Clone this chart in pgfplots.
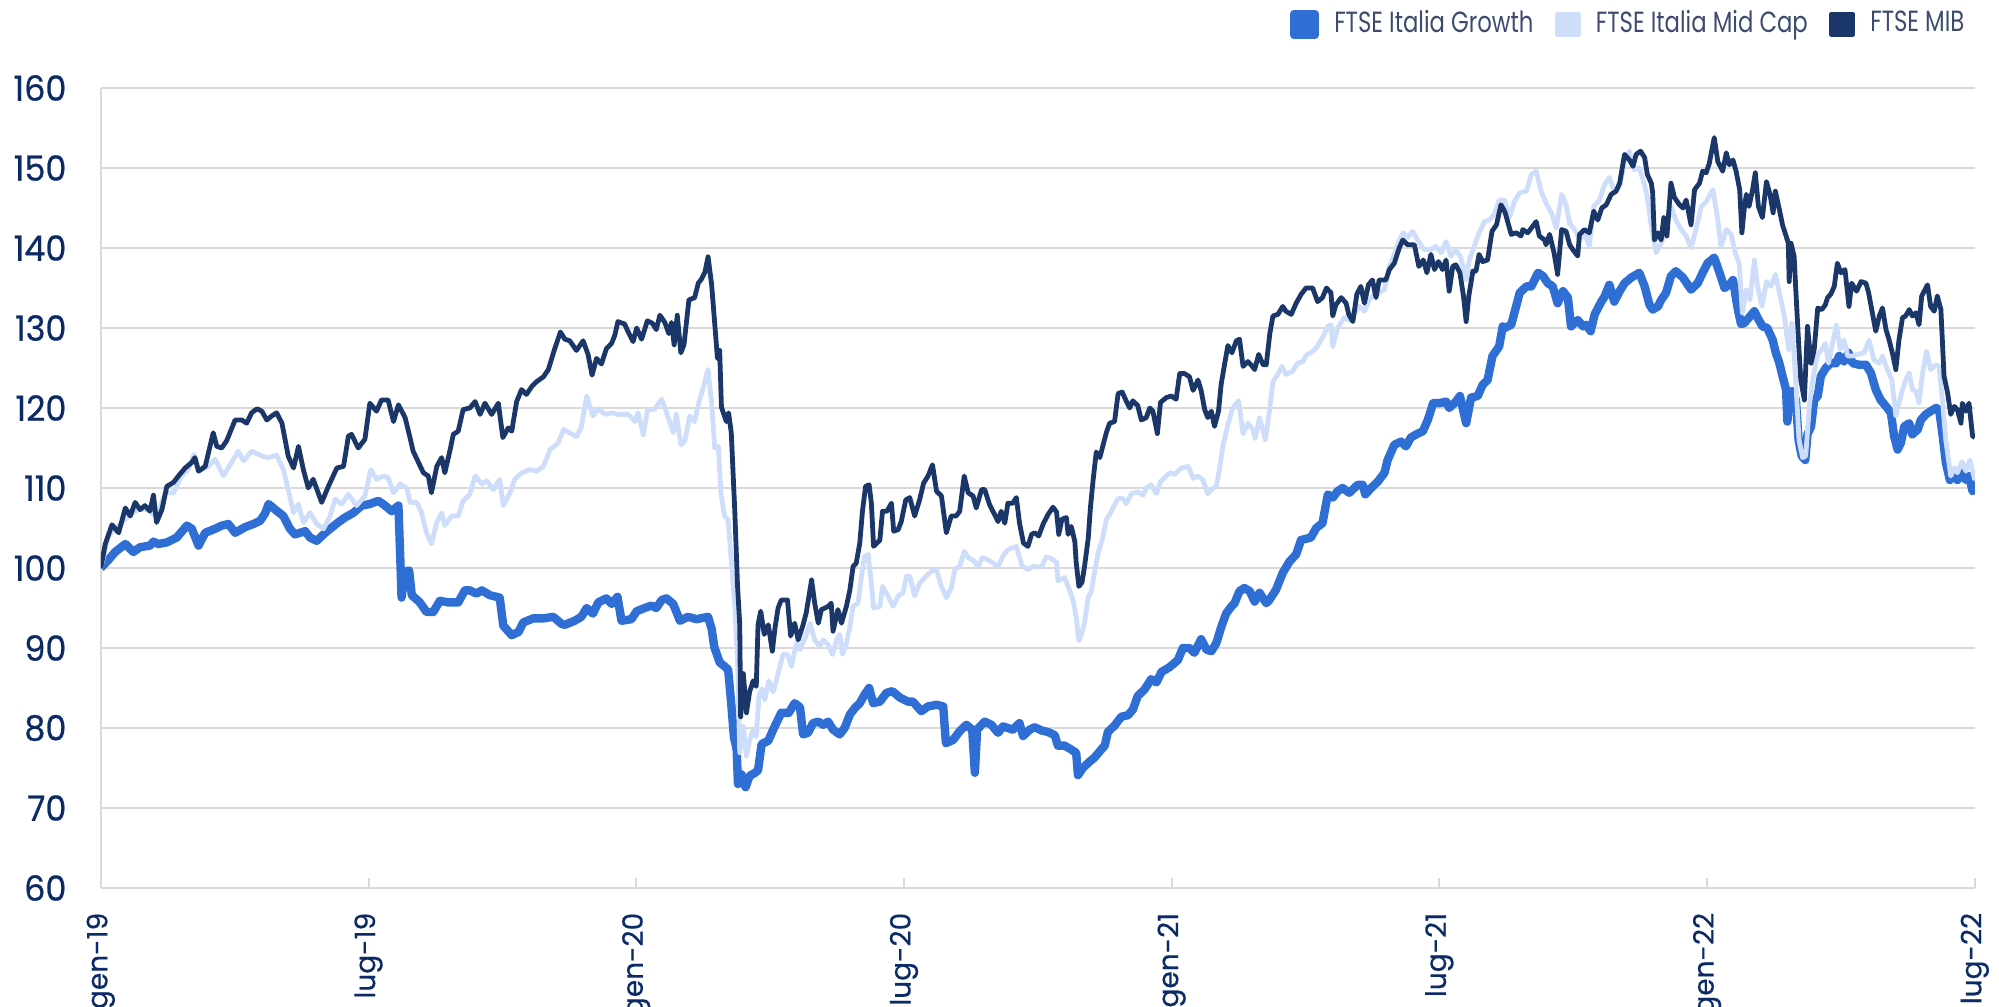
\documentclass[border=0pt]{standalone}
\usepackage{pgfplots}
\pgfplotsset{compat=1.18}
\usepackage{fontspec}
\setmainfont{Poppins}
\newfontfamily\ytfont[FakeStretch=0.96,FakeBold=0.6]{Poppins}
\newfontfamily\xtfont[FakeBold=0.4]{Poppins}
\newfontfamily\legfont[FakeStretch=0.78]{Poppins}
\definecolor{growth}{HTML}{2F6ED4}
\definecolor{midcap}{HTML}{CEDEFA}
\definecolor{mib}{HTML}{1B3668}
\definecolor{ticktext}{HTML}{0B2A66}
\definecolor{legtext}{HTML}{3D4C6E}
\definecolor{gridgray}{HTML}{D9D9D9}
\begin{document}
\begin{tikzpicture}
\begin{axis}[
  at={(0,0)}, anchor=south west,
  width=468.5pt, height=200pt, scale only axis,
  xmin=0, xmax=42, ymin=60, ymax=160,
  xtick={0,6,...,42},
  xticklabels={gen-19,lug-19,gen-20,lug-20,gen-21,lug-21,gen-22,lug-22},
  ytick={60,70,...,160},
  axis x line*=bottom, axis y line*=left,
  axis line style={draw=gridgray, line width=0.6pt},
  ymajorgrids, grid style={draw=gridgray, line width=0.5pt},
  tick align=inside, major tick length=2.5pt,
  xtick style={draw=gridgray, line width=0.5pt},
  ytick style={draw=none},
  /pgf/number format/assume math mode=true,
  xticklabel style={rotate=90, anchor=east, font=\xtfont\fontsize{7}{7}\selectfont, text=ticktext, inner sep=0pt},
  xticklabel shift=6pt,
  yticklabel style={anchor=east, font=\ytfont\fontsize{8.7}{8.7}\selectfont, text=ticktext, inner sep=0pt},
  yticklabel shift=8.4pt,
  legend columns=-1,
  legend style={at={(1,1)}, anchor=east, xshift=-2.6pt, yshift=15.9pt, draw=none, fill=none,
    inner sep=0pt, outer sep=0pt, font=\legfont\fontsize{7.3}{7.3}\selectfont, text=legtext,
    nodes={inner sep=0pt},
    /tikz/every odd column/.append style={column sep=3.8pt},
    /tikz/every even column/.append style={column sep=5.4pt}},
  legend image code/.code={\fill[#1] (0pt,-2.6pt) rectangle (5.2pt,2.6pt);},
  line join=round,
]
\addplot[color=growth, line width=2.1pt] coordinates {
(0,100)(0.17,101)(0.32,102)(0.55,103)(0.73,102)(0.88,102.6)(1.1,102.8)(1.18,103.3)(1.29,103)(1.48,103.2)(1.7,103.8)(1.93,105.3)(2.04,104.9)(2.19,102.8)(2.34,104.4)(2.56,104.9)(2.71,105.3)(2.86,105.5)(3.01,104.4)(3.23,105.1)(3.42,105.5)(3.57,105.9)(3.68,106.8)(3.76,108)(3.91,107.3)(4.09,106.5)(4.24,104.9)(4.35,104.2)(4.58,104.6)(4.69,103.8)(4.84,103.4)(5.03,104.4)
(5.14,104.9)(5.32,105.7)(5.47,106.3)(5.66,106.9)(5.85,107.8)(6.03,108)(6.22,108.4)(6.37,107.8)(6.52,107.1)(6.67,107.8)(6.72,99.9)(6.74,96.3)(6.82,99.5)(6.91,99.7)(6.97,96.6)(7.15,95.7)(7.3,94.5)(7.45,94.5)(7.6,95.9)(7.79,95.7)(8.01,95.7)(8.16,97.2)(8.27,97.2)(8.42,96.8)(8.54,97.2)(8.72,96.6)(8.94,96.3)(9.02,92.8)(9.21,91.6)(9.36,92)(9.47,93.2)(9.69,93.7)(9.92,93.7)(10.14,93.9)(10.33,93)
(10.4,92.9)(10.62,93.4)(10.77,93.9)(10.89,95)(11.03,94.3)(11.15,95.7)(11.33,96.2)(11.45,95.5)(11.58,96.4)(11.67,93.4)(11.89,93.6)(12.01,94.6)(12.19,95)(12.34,95.3)(12.45,95)(12.57,96)(12.68,96.2)(12.83,95.5)(12.98,93.4)(13.16,93.9)(13.35,93.6)(13.61,93.9)(13.69,92.4)(13.75,90.1)(13.87,88.2)(13.98,87.7)(14.06,87.3)(14.13,83)(14.19,78.8)(14.25,77.4)(14.28,73)(14.36,74.2)(14.45,72.6)(14.54,74)(14.66,74.4)(14.73,74.7)(14.81,78)(14.96,78.4)(15.07,79.8)(15.25,81.9)(15.42,81.9)(15.55,83.1)(15.67,82.6)
(15.74,79.2)(15.85,79.4)(15.96,80.6)(16.08,80.8)(16.19,80.4)(16.3,80.8)(16.41,79.8)(16.56,79.2)(16.67,80)(16.79,81.7)(16.9,82.5)(17.01,83.1)(17.12,84.2)(17.22,85)(17.31,83.1)(17.46,83.3)(17.61,84.4)(17.74,84.6)(17.91,83.8)(18.09,83.3)(18.2,83.3)(18.39,82.1)(18.54,82.7)(18.73,82.9)(18.88,82.7)(18.94,78.1)(19.1,78.5)(19.25,79.6)(19.4,80.4)(19.53,79.8)(19.59,74.4)(19.64,79.8)(19.81,80.8)(19.96,80.4)(20.11,79.4)(20.22,80.2)(20.44,79.8)(20.59,80.6)(20.67,79)(20.82,79.8)
(20.93,80.1)(21.08,79.7)(21.23,79.5)(21.38,79.1)(21.45,77.8)(21.6,77.8)(21.75,77.3)(21.86,76.9)(21.9,74.1)(22.01,75)(22.16,75.8)(22.27,76.3)(22.39,77.1)(22.5,77.8)(22.57,79.5)(22.72,80.3)(22.87,81.4)(23.02,81.6)(23.13,82.3)(23.24,84)(23.39,84.8)(23.54,86.1)(23.66,85.7)(23.77,87)(23.95,87.6)(24.14,88.5)(24.25,90)(24.4,90)(24.51,89.4)(24.66,91.1)(24.78,89.8)(24.89,89.6)(25.0,90.6)(25.11,92.6)(25.22,94.3)(25.34,95.2)(25.41,95.6)(25.52,97.1)(25.63,97.5)(25.75,97.1)(25.86,95.8)(25.97,96.9)(26.12,95.6)
(26.19,96)(26.34,97.3)(26.49,99.4)(26.64,100.8)(26.79,101.7)(26.9,103.5)(27.12,103.8)(27.24,105)(27.38,105.6)(27.5,109.2)(27.61,108.8)(27.72,109.6)(27.83,110)(27.98,109.4)(28.17,110.4)(28.28,110.4)(28.34,109.2)(28.47,110)(28.62,110.8)(28.77,111.9)(28.84,113.5)(28.99,115.4)(29.14,115.8)(29.25,115.2)(29.36,116.3)(29.48,116.7)(29.63,117.1)(29.74,118.5)(29.86,120.6)(30.0,120.6)(30.15,120.8)(30.22,120)(30.37,120.8)(30.46,121.5)(30.6,118.1)(30.71,121.3)(30.86,121.5)(30.97,122.9)(31.08,123.5)(31.19,126.5)(31.34,127.7)(31.42,130.2)
(31.46,130)(31.61,130.4)(31.72,132.7)(31.8,134.4)(31.95,135.2)(32.06,135.2)(32.21,136.9)(32.32,136.5)(32.43,135.6)(32.54,135.2)(32.65,133.1)(32.77,134.6)(32.88,133.8)(32.95,130.2)(33.1,131)(33.22,130.2)(33.29,130.4)(33.39,129.6)(33.48,131.7)(33.63,133.3)(33.7,133.9)(33.81,135.4)(33.92,133.3)(34.04,134.6)(34.15,135.6)(34.3,136.3)(34.48,136.9)(34.6,135.2)(34.71,132.9)(34.78,132.3)(34.9,132.7)(34.97,133.5)(35.08,134.4)(35.19,136.5)(35.3,137.1)(35.46,136.3)(35.64,134.8)(35.79,135.6)(35.9,136.9)(36.01,138.1)(36.16,138.8)(36.28,136.9)(36.39,135)(36.5,135.4)(36.58,136)(36.69,132.3)
(36.76,130.5)(36.83,130.6)(36.94,131.3)(37.06,132.1)(37.13,131.3)(37.24,130.2)(37.35,130)(37.47,128.5)(37.54,126.9)(37.62,125.6)(37.69,124)(37.77,122.3)(37.8,118.3)(37.84,121.5)(37.91,122.1)(37.99,121)(38.05,116)(38.12,114)(38.2,113.5)(38.25,116.7)(38.33,117.7)(38.4,121)(38.48,121.5)(38.55,124)(38.66,125)(38.77,125.6)(38.89,125.6)(38.96,126.5)(39.07,125.8)(39.17,126.9)(39.26,125.6)(39.41,125.4)(39.56,125.4)(39.67,124.4)(39.78,122.3)(39.89,121)(40.01,120.2)(40.12,119.4)(40.19,116.5)(40.27,114.8)(40.34,115.6)(40.42,117.7)(40.53,118.1)(40.6,116.7)(40.72,117.3)(40.79,118.5)(40.9,119.2)(41.01,119.6)(41.13,120)(41.2,119.8)(41.28,116.5)(41.35,113.2)(41.44,111)(41.54,111.9)(41.61,111)(41.71,111.9)(41.8,111)(41.87,111.5)(41.95,109.6)(42.0,109.8)
};
\addlegendentry{FTSE Italia Growth}
\addplot[color=midcap, line width=1.2pt] coordinates {
(0,100)(0.17,104)(0.4,105.3)(0.62,106.5)(0.84,107.3)(1.07,107.3)(1.25,106.3)(1.44,109.4)(1.63,109.4)(1.81,111.5)(1.96,112.3)(2.09,114.2)(2.19,112.1)(2.41,112.7)(2.56,113.6)(2.75,111.5)(2.93,113.2)(3.08,114.6)(3.2,113.4)(3.38,114.6)(3.61,114)(3.76,113.8)(3.94,114.1)(4.09,112.3)(4.2,109.8)(4.32,106.9)(4.43,108)(4.54,105.7)(4.69,106.9)(4.84,105.5)(4.99,104.9)(5.14,106.5)
(5.25,108.6)(5.4,108)(5.55,109.2)(5.73,107.8)(5.92,109)(6.05,112.3)(6.18,111.1)(6.33,111.5)(6.44,111.3)(6.56,109.4)(6.71,110.5)(6.86,110)(6.93,108.2)(7.08,108.2)(7.19,106.9)(7.3,104.4)(7.41,103)(7.53,105.7)(7.64,106.9)(7.71,105.3)(7.86,106.5)(8.01,106.5)(8.12,108.4)(8.27,109.2)(8.39,111.5)(8.54,110.5)(8.65,110.9)(8.8,109.8)(8.94,111.1)(9.02,107.8)(9.17,109.4)(9.28,111.1)(9.43,111.9)(9.62,112.3)(9.77,112.1)(9.92,112.7)(10.07,114.8)(10.25,115.6)(10.37,117.3)
(10.51,116.9)(10.66,116.4)(10.77,117.6)(10.89,121.5)(11.03,119)(11.15,119.9)(11.3,119.2)(11.45,119.4)(11.59,119.2)(11.82,119.2)(11.97,118.3)(12.04,119.4)(12.16,116.6)(12.25,119.7)(12.42,119.9)(12.57,121.1)(12.68,119.4)(12.83,116.9)(12.9,119.2)(13.0,115.4)(13.09,115.9)(13.2,119)(13.31,118.3)(13.39,120.4)(13.5,122.5)(13.61,124.8)(13.69,120.6)(13.76,115)(13.84,115.2)(13.9,109.3)(13.98,106.5)(14.06,106)(14.13,100.9)(14.21,95.3)(14.27,88.2)(14.32,76.9)(14.4,80.2)(14.47,76.5)(14.54,78.4)(14.62,79.8)(14.69,78.9)(14.75,84)(14.82,84.9)(14.88,83.5)(14.97,85.9)(15.07,84.5)(15.18,86.8)(15.29,89.2)(15.39,89.2)(15.48,87.7)(15.59,90.6)
(15.67,89.8)(15.78,91.2)(15.9,93.1)(16.0,91)(16.11,90.2)(16.19,91)(16.3,90.4)(16.4,89.2)(16.49,91)(16.56,91.7)(16.62,89.2)(16.71,90.6)(16.79,92.7)(16.86,95.2)(16.97,95.6)(17.05,99)(17.12,101.5)(17.2,101.7)(17.27,98.1)(17.32,95)(17.46,95.2)(17.52,97.7)(17.64,96.5)(17.76,95.2)(17.87,96.5)(17.98,96.9)(18.06,99)(18.13,99)(18.24,96.5)(18.35,98.1)(18.5,99)(18.62,99.6)(18.73,99.8)(18.84,97.7)(18.95,96.3)(19.06,97.5)(19.14,99.8)(19.25,100.2)(19.35,102.1)(19.44,101.3)(19.55,101)(19.66,100.2)(19.76,101.3)(19.89,101)(20.0,100.6)(20.11,100.2)(20.22,101.5)(20.33,102.3)(20.52,102.7)(20.65,100.2)(20.78,99.8)(20.89,100.2)
(21.08,100.1)(21.19,101.4)(21.3,101.2)(21.42,100.7)(21.45,98.4)(21.6,98.8)(21.68,97.7)(21.79,96)(21.86,93.9)(21.92,90.9)(21.98,91.7)(22.05,93.2)(22.13,96.4)(22.2,97.1)(22.27,99.4)(22.35,101.8)(22.46,103.9)(22.54,106.1)(22.61,106.7)(22.69,107.6)(22.8,108.7)(22.91,108.7)(22.98,108)(23.1,109.3)(23.24,109.5)(23.36,109.1)(23.43,110)(23.54,110.4)(23.66,109.3)(23.75,110.8)(23.88,111.5)(23.95,111.9)(24.07,111.7)(24.22,112.5)(24.37,112.7)(24.48,111.2)(24.59,111.5)(24.7,111)(24.81,109.3)(24.93,110)(25.0,110.2)(25.07,112.3)(25.15,115.3)(25.26,117.9)(25.37,120)(25.5,120.9)(25.6,116.8)(25.71,118.1)(25.82,117.3)(25.87,116.2)(25.97,118.8)(26.1,116)(26.2,120)
(26.27,123.3)(26.38,124.2)(26.47,125.2)(26.56,124.2)(26.71,124.6)(26.82,125.6)(26.94,125.8)(27.03,126.7)(27.12,126.9)(27.24,127.5)(27.38,128.8)(27.5,130.2)(27.57,130.4)(27.61,127.7)(27.72,130)(27.87,131.3)(27.98,131)(28.09,131.7)(28.21,132.7)(28.32,132.1)(28.43,133.5)(28.54,134.2)(28.65,134.4)(28.77,134.8)(28.88,137.7)(28.99,139.2)(29.1,141)(29.19,141.9)(29.29,141.3)(29.4,142.1)(29.51,141)(29.66,139.8)(29.81,139.8)(29.92,140.2)(30.04,139.4)(30.15,140.8)(30.26,139)(30.37,139.8)(30.48,138.8)(30.6,136)(30.67,138.5)(30.78,140.2)(30.89,141.9)(31.01,143.3)(31.12,143.5)(31.23,144.2)(31.34,146)
(31.46,146)(31.57,143.8)(31.68,145.8)(31.8,146.9)(31.95,147.1)(32.06,149.2)(32.17,149.6)(32.28,147.1)(32.39,145.6)(32.51,144.4)(32.62,142.5)(32.74,146.7)(32.84,145.4)(32.92,143.1)(33.03,142.3)(33.14,141)(33.25,141.9)(33.36,140.2)(33.46,145.2)(33.59,146)(33.7,147.9)(33.81,148.8)(33.92,147.1)(34.04,147.7)(34.15,150.8)(34.26,152.1)(34.36,149.8)(34.48,150)(34.6,147.9)(34.67,146)(34.75,142.7)(34.86,139.4)(34.97,140.6)(35.08,142.3)(35.19,145.2)(35.3,143.5)(35.42,142.3)(35.53,141.5)(35.64,140)(35.75,142.3)(35.87,145.2)(35.98,145.8)(36.13,147.3)(36.24,143.5)(36.31,140.2)(36.43,142.3)(36.54,141.7)(36.63,139.4)(36.72,138)
(36.79,131.9)(36.88,134.8)(36.96,133.5)(37.06,138.5)(37.13,135.2)(37.23,132.7)(37.33,135.8)(37.43,135.2)(37.53,136.7)(37.62,134.4)(37.73,131.5)(37.83,127.3)(37.9,130.6)(37.99,123.1)(38.06,116)(38.14,113.8)(38.21,114)(38.29,120.2)(38.38,124)(38.48,126.7)(38.57,127.3)(38.65,128.1)(38.72,125.6)(38.81,128.1)(38.9,130.4)(38.98,127.3)(39.07,128.5)(39.15,126.5)(39.26,126.5)(39.37,126.7)(39.52,126.9)(39.63,128.5)(39.74,126)(39.86,125.6)(39.93,126.5)(40.04,124.8)(40.14,123.5)(40.23,119)(40.3,120.6)(40.38,122.3)(40.45,123.5)(40.53,124.4)(40.6,122.3)(40.68,122.1)(40.75,120.6)(40.83,124.4)(40.92,127.1)(41.01,124.8)(41.13,125.4)(41.2,125.2)(41.28,120.6)(41.35,116)(41.46,111.5)(41.54,112.5)(41.61,111.9)(41.71,113.3)(41.8,112.1)(41.89,113.5)(42.0,111)
};
\addlegendentry{FTSE Italia Mid Cap}
\addplot[color=mib, line width=1.2pt] coordinates {
(0,100)(0.1,103)(0.25,105.4)(0.4,104.4)(0.55,107.5)(0.66,106.5)(0.77,108.2)(0.88,107.3)(0.99,107.8)(1.1,107.1)(1.18,109.1)(1.25,105.7)(1.37,107.3)(1.48,110.2)(1.63,110.7)(1.74,111.5)(1.89,112.5)(2.04,113.2)(2.11,113.8)(2.19,112.1)(2.34,112.7)(2.52,116.9)(2.6,115.2)(2.71,115)(2.82,115.9)(3.01,118.5)(3.16,118.5)(3.27,118.1)(3.38,119.4)(3.5,119.9)(3.61,119.6)(3.72,118.5)(3.83,119)(3.94,119.4)(4.06,118.1)(4.2,114)(4.32,112.5)(4.43,115.2)(4.54,112.3)(4.65,110)(4.76,111.1)(4.95,108.2)(5.1,110.2)
(5.29,112.5)(5.44,112.7)(5.55,116.5)(5.62,116.7)(5.77,115)(5.92,116.1)(6.03,120.6)(6.18,119.6)(6.29,121)(6.44,121)(6.56,118.3)(6.67,120.4)(6.82,118.8)(6.93,116.3)(7.0,114.6)(7.12,113.2)(7.23,111.9)(7.34,111.5)(7.41,109.4)(7.53,112.7)(7.64,113.8)(7.71,111.9)(7.83,114.8)(7.9,116.7)(8.01,117.1)(8.12,119.8)(8.27,120)(8.39,120.8)(8.5,119.2)(8.61,120.6)(8.76,119.2)(8.91,120.6)(9.01,116.3)(9.13,117.5)(9.21,117.1)(9.32,120.8)(9.43,122.3)(9.54,121.7)(9.66,122.7)(9.77,123.3)(9.92,123.9)(10.03,124.8)(10.15,127)(10.3,129.5)
(10.4,128.6)(10.51,128.4)(10.66,127.2)(10.81,128.4)(10.92,126.7)(11.01,124.1)(11.11,126.2)(11.22,125.5)(11.33,127.4)(11.45,128.1)(11.52,129.1)(11.59,130.8)(11.74,130.5)(11.82,129.5)(11.93,128.3)(12.01,130)(12.12,128.6)(12.25,130.9)(12.36,130.6)(12.45,129.8)(12.53,131.6)(12.64,130.7)(12.73,129.3)(12.79,130.7)(12.85,127.9)(12.92,131.6)(13.0,126.9)(13.07,127.9)(13.18,133.5)(13.31,133.8)(13.39,135.6)(13.46,136.1)(13.54,137)(13.61,138.9)(13.69,135.4)(13.76,130.5)(13.82,126.2)(13.87,127.2)(13.91,120.1)(14.02,118.3)(14.07,119.4)(14.13,116.9)(14.21,107)(14.27,97.8)(14.32,92.9)(14.34,81.4)(14.4,86.8)(14.47,81.9)(14.54,84.5)(14.62,85.9)(14.69,85.2)(14.73,92.9)(14.79,94.6)(14.87,91.7)(14.96,92.9)(15.05,89.6)(15.11,92.5)(15.18,95)(15.25,96)(15.39,96)(15.46,91.5)(15.55,93.1)(15.63,91)
(15.74,92.9)(15.81,94.4)(15.93,98.5)(16.0,95.6)(16.08,93.1)(16.15,94.8)(16.23,95)(16.3,95.2)(16.37,95.6)(16.41,92.1)(16.52,94.8)(16.6,93.1)(16.71,95.2)(16.79,97.3)(16.86,100.2)(16.93,100.6)(17.01,103.1)(17.07,107.1)(17.14,110.2)(17.22,110.4)(17.27,108.1)(17.32,102.7)(17.46,103.5)(17.52,107.1)(17.62,107.1)(17.72,108.1)(17.77,104.6)(17.87,104.8)(17.94,105.8)(18.04,108.5)(18.13,108.8)(18.24,106.5)(18.35,108.5)(18.44,110.6)(18.54,111.5)(18.64,112.9)(18.73,109.6)(18.84,109)(18.95,104.4)(19.06,106.5)(19.17,106.5)(19.25,107.1)(19.35,111.5)(19.44,109.4)(19.55,109)(19.62,107.5)(19.74,109.8)(19.81,109.8)(19.92,107.9)(20.03,106.7)(20.11,105.8)(20.18,107.1)(20.26,105.6)(20.33,108.1)(20.44,108.1)(20.52,108.8)(20.59,105.6)(20.68,103.1)(20.78,102.7)(20.86,104.2)
(20.93,104.4)(21.02,104)(21.12,105.5)(21.23,106.7)(21.34,107.6)(21.42,107)(21.47,104.2)(21.54,106.1)(21.64,106.3)(21.68,104.2)(21.75,105.2)(21.83,103.3)(21.86,100.7)(21.92,97.7)(21.99,98.2)(22.05,100.3)(22.13,103.7)(22.18,107.6)(22.24,111)(22.31,114.5)(22.39,113.8)(22.46,115.3)(22.54,117)(22.61,118.1)(22.72,118.3)(22.8,121.8)(22.89,122)(22.98,120.9)(23.06,120)(23.13,120.9)(23.24,120.3)(23.32,118.5)(23.43,118.8)(23.51,120)(23.58,119.6)(23.68,116.8)(23.75,120.7)(23.88,121.3)(23.99,121.5)(24.1,121.1)(24.18,124.3)(24.29,124.3)(24.4,123.9)(24.48,122.2)(24.59,123.5)(24.66,122.2)(24.74,119.8)(24.81,118.8)(24.89,119.6)(24.96,117.7)(25.05,119.6)(25.11,123)(25.19,125.6)(25.26,127.8)(25.35,126.9)(25.45,128.4)(25.52,128.6)(25.6,125.2)(25.71,125.8)(25.78,125.4)(25.86,124.8)(25.95,126.7)(26.05,125.4)(26.12,125.4)(26.2,129.3)
(26.27,131.5)(26.38,131.7)(26.49,132.7)(26.56,132.1)(26.68,131.7)(26.79,133.1)(26.9,134.2)(27.01,135)(27.16,135)(27.27,133.3)(27.38,133.8)(27.47,135)(27.57,134.4)(27.61,131.5)(27.68,132.9)(27.8,133.8)(27.91,133.1)(27.97,131.7)(28.06,130.8)(28.15,134.2)(28.24,135.2)(28.32,133.1)(28.41,135.4)(28.5,136)(28.58,133.8)(28.65,136)(28.8,136)(28.88,137.3)(28.99,138.1)(29.1,140)(29.18,141)(29.29,140.4)(29.44,140.4)(29.54,137.7)(29.64,138.5)(29.72,136.9)(29.81,139.2)(29.89,137.3)(29.98,138.3)(30.07,137.3)(30.15,138.5)(30.22,134.6)(30.3,137.7)(30.37,137.9)(30.46,136.9)(30.54,134)(30.6,130.8)(30.66,134)(30.75,137.1)(30.82,137.1)(30.89,139.2)(30.97,138.3)(31.08,138.5)(31.18,142.1)(31.28,142.9)(31.38,145.4)
(31.47,144.5)(31.57,142.5)(31.61,141.7)(31.72,141.9)(31.83,141.5)(31.87,142.3)(31.98,141.9)(32.09,142.7)(32.17,143.3)(32.24,141.5)(32.36,141)(32.39,140.4)(32.47,141.7)(32.57,139.4)(32.65,136.7)(32.74,142.3)(32.84,142.1)(32.92,140.4)(32.99,139.8)(33.1,139)(33.14,141.7)(33.25,142.3)(33.36,141.9)(33.46,144.6)(33.55,143.5)(33.64,145)(33.74,145.4)(33.85,146.7)(33.96,147.1)(34.04,148.1)(34.15,151.7)(34.26,151)(34.34,150.2)(34.41,151.7)(34.51,152.1)(34.6,151.3)(34.66,149.2)(34.75,148.1)(34.78,146.9)(34.82,141)(34.9,141.9)(34.97,141)(35.03,143.8)(35.1,141.5)(35.19,148.1)(35.27,146.3)(35.38,145.4)(35.46,145)(35.53,146)(35.64,142.9)(35.72,147.3)(35.83,148.1)(35.9,149.6)(35.98,149.4)(36.05,150.6)(36.16,153.8)(36.24,150.8)(36.35,149.6)(36.43,151.9)(36.5,150.4)(36.58,151)(36.65,149.6)(36.73,147.3)(36.78,141.9)
(36.83,144.8)(36.88,146.7)(36.94,145.2)(37.02,147.3)(37.08,149.4)(37.15,145.2)(37.24,143.8)(37.33,148.3)(37.41,146.7)(37.48,144.4)(37.53,147.1)(37.62,144.8)(37.69,142.9)(37.77,141.5)(37.82,140.6)(37.84,135.8)(37.88,140.6)(37.95,139)(38.0,133.5)(38.06,127.3)(38.1,123.5)(38.18,121)(38.25,130.2)(38.33,125.6)(38.4,127.3)(38.48,132.5)(38.57,132.3)(38.65,132.9)(38.7,133.8)(38.77,134.2)(38.85,135.2)(38.92,138.1)(39.0,136.9)(39.09,137.3)(39.18,132.7)(39.24,135.6)(39.35,134.6)(39.45,135.8)(39.56,135.6)(39.62,134.4)(39.69,132.3)(39.78,129.6)(39.86,131.5)(39.93,132.5)(40.01,129.8)(40.08,128.5)(40.16,126.7)(40.23,124.8)(40.3,128.5)(40.38,131.3)(40.45,131.5)(40.53,132.3)(40.6,131.5)(40.68,131.9)(40.75,130.4)(40.81,134)(40.94,135.4)(41.01,132.7)(41.09,132.1)(41.16,134)(41.24,132.3)(41.31,124)(41.39,121.9)(41.46,119.2)(41.54,120.2)(41.61,119.8)(41.69,118.1)(41.72,120.6)(41.8,119.6)(41.87,120.6)(41.95,116.5)(42.0,116.3)
};
\addlegendentry{FTSE MIB}
\end{axis}
\pgfresetboundingbox
\path[use as bounding box] (-25.2pt,-29.5pt) rectangle (474.55pt,222pt);
\end{tikzpicture}
\end{document}
